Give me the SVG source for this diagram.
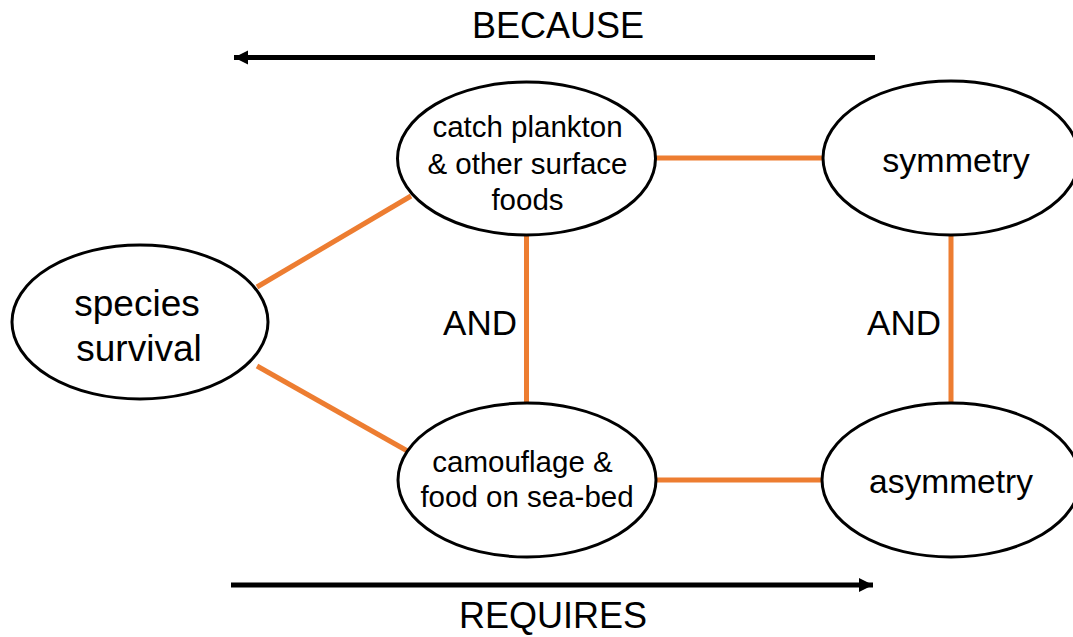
<svg xmlns="http://www.w3.org/2000/svg" width="1073" height="637" viewBox="0 0 1073 637">
<style>
.node ellipse{fill:#fff;stroke:#000;stroke-width:3}
text{font-family:"Liberation Sans",Arial,sans-serif;fill:#000;text-anchor:middle}
.link{stroke:#ED7D31;stroke-width:5;fill:none}
.arrow{stroke:#000;stroke-width:5;fill:none}
</style>
<defs>
<marker id="ah" markerUnits="userSpaceOnUse" markerWidth="16" markerHeight="16" viewBox="0 0 16 16" refX="14" refY="8" orient="auto">
<path d="M0,1 L14,8 L0,15 Z" fill="#000"/>
</marker>
</defs>
<g id="connectors">
<line class="link" x1="257" y1="287" x2="411" y2="196"/>
<line class="link" x1="257" y1="366" x2="411" y2="453"/>
<line class="link" x1="655" y1="158" x2="823" y2="158"/>
<line class="link" x1="656" y1="480" x2="822" y2="480"/>
<line class="link" x1="526.5" y1="235" x2="526.5" y2="403"/>
<line class="link" x1="951" y1="235" x2="951" y2="403"/>
<line class="arrow" x1="875" y1="57.5" x2="234" y2="57.5" marker-end="url(#ah)"/>
<line class="arrow" x1="231" y1="585" x2="873" y2="585" marker-end="url(#ah)"/>
</g>
<g id="labels">
<text x="558" y="38" font-size="36">BECAUSE</text>
<text x="553" y="628" font-size="36">REQUIRES</text>
<text x="480" y="335" font-size="35">AND</text>
<text x="904" y="335" font-size="35">AND</text>
</g>
<g id="species" class="node">
<ellipse cx="140" cy="322" rx="128" ry="77"/>
<text x="137" y="316" font-size="37">species</text>
<text x="139" y="361" font-size="37">survival</text>
</g>
<g id="catch" class="node">
<ellipse cx="526.5" cy="158.5" rx="129" ry="76.5"/>
<text x="527.5" y="137" font-size="29.5">catch plankton</text>
<text x="527.5" y="174" font-size="29.5">&amp; other surface</text>
<text x="527.5" y="210" font-size="29.5">foods</text>
</g>
<g id="symmetry" class="node">
<ellipse cx="951" cy="158" rx="128" ry="77"/>
<text x="956" y="172" font-size="34">symmetry</text>
</g>
<g id="camouflage" class="node">
<ellipse cx="527" cy="480" rx="129" ry="77"/>
<text x="522.5" y="472" font-size="29.5">camouflage &amp;</text>
<text x="527" y="507" font-size="29.5">food on sea-bed</text>
</g>
<g id="asymmetry" class="node">
<ellipse cx="951" cy="480" rx="129" ry="77"/>
<text x="951" y="493" font-size="33.5">asymmetry</text>
</g>
</svg>
